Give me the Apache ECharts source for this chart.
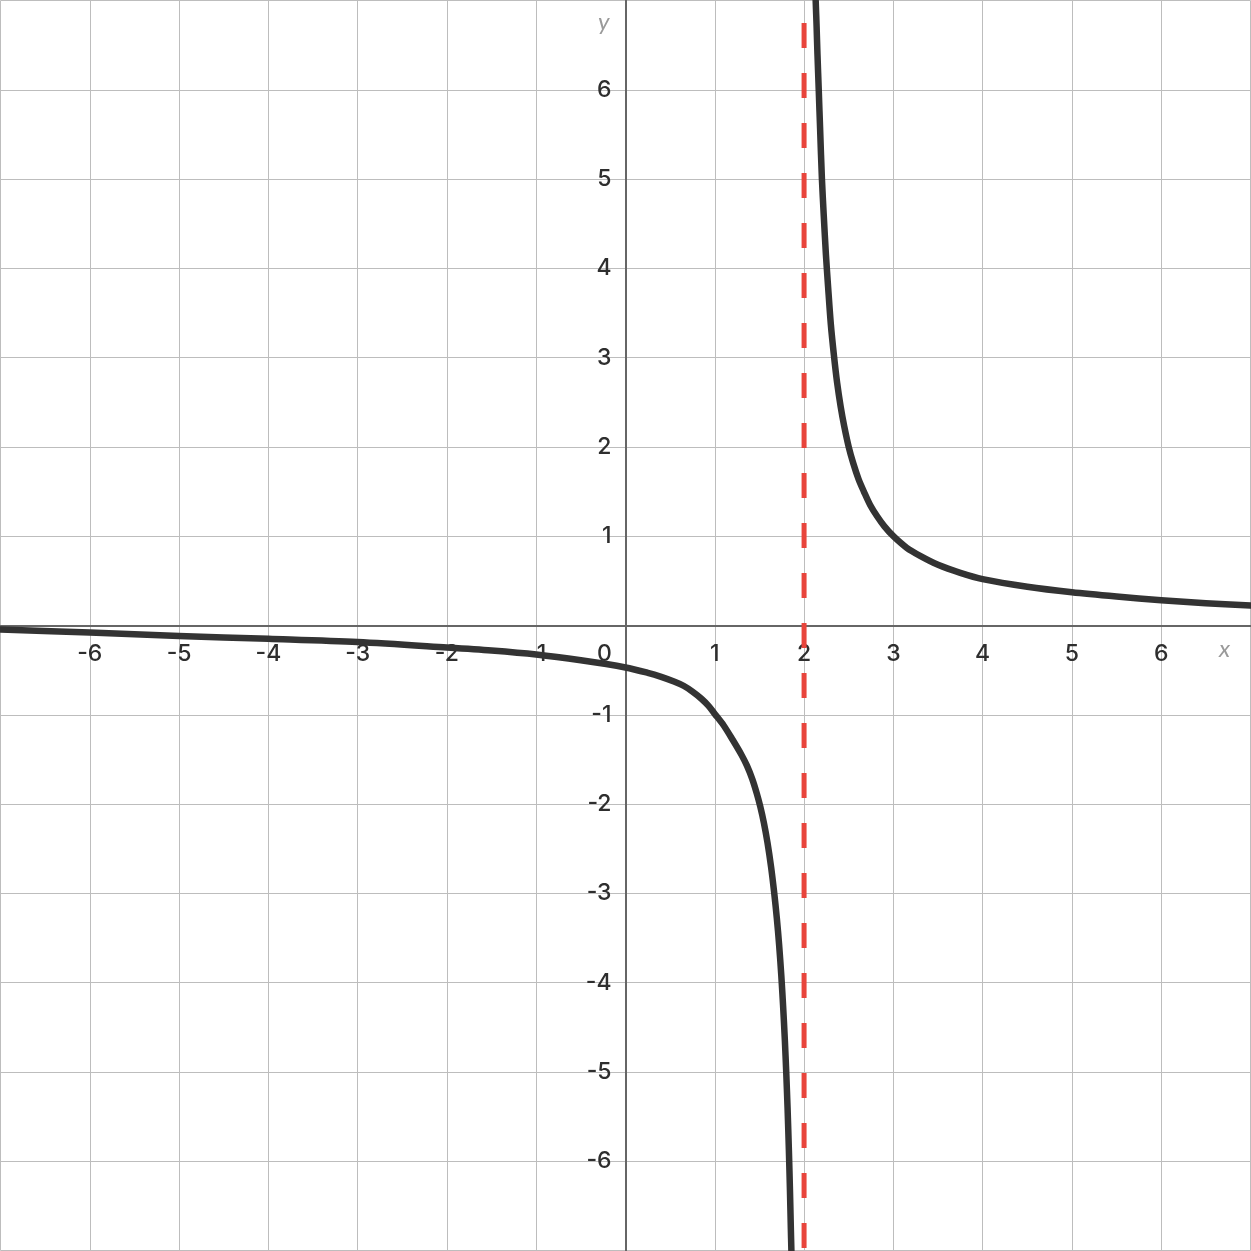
<!DOCTYPE html>
<html>
<head>
<meta charset="utf-8">
<script src="https://cdn.jsdelivr.net/npm/echarts@6/dist/echarts.min.js"></script>
<style>
html,body{margin:0;padding:0;background:#fff;}
#chart{width:1251px;height:1251px;}
</style>
</head>
<body>
<div id="chart"></div>
<script>
// Left branch of the curve
const leftX = [-7, -6, -5, -4, -3, -2, -1.5, -1, -0.5, 0, 0.25, 0.4, 0.55, 0.65, 0.75, 0.85, 0.93, 1, 1.1, 1.2, 1.3, 1.36, 1.42, 1.47, 1.51, 1.55, 1.59, 1.63, 1.665, 1.695, 1.72, 1.745, 1.765, 1.785, 1.8, 1.815, 1.83, 1.842, 1.852, 1.858];
const leftY = [-0.045, -0.078, -0.117, -0.149, -0.185, -0.246, -0.28, -0.325, -0.39, -0.47, -0.53, -0.575, -0.63, -0.675, -0.74, -0.82, -0.9, -0.99, -1.12, -1.28, -1.45, -1.57, -1.72, -1.88, -2.03, -2.21, -2.43, -2.7, -2.99, -3.28, -3.57, -3.92, -4.26, -4.65, -5, -5.4, -5.88, -6.33, -6.76, -7];
// Right branch of the curve
const rightX = [2.13, 2.14, 2.15, 2.165, 2.18, 2.2, 2.22, 2.245, 2.27, 2.3, 2.335, 2.37, 2.41, 2.45, 2.5, 2.55, 2.61, 2.67, 2.74, 2.82, 2.9, 3, 3.15, 3.3, 3.5, 3.75, 4, 4.5, 5, 5.5, 6, 6.5, 7];
const rightY = [7, 6.72, 6.4, 5.98, 5.55, 5, 4.6, 4.15, 3.78, 3.37, 3.02, 2.72, 2.45, 2.23, 2, 1.82, 1.64, 1.5, 1.35, 1.22, 1.11, 1, 0.87, 0.78, 0.68, 0.59, 0.52, 0.435, 0.373, 0.325, 0.283, 0.25, 0.224];
// Vertical asymptote
const asymX = [2, 2];
const asymY = [7, -7];
// Axis ranges / ticks
const axisMin = -7, axisMax = 7, tickStep = 1;
const xName = 'x', yName = 'y';

const zip = (a, b) => a.map((v, i) => [v, b[i]]);
const FONT = 'Inter';
const NAMEFONT = 'Lato';
const W = 1251, H = 1251;
const PAD = 0.5;
const labelStyle = {fontSize: 23, fontWeight: 500, color: '#2e2e2e', fontFamily: FONT};

const chart = echarts.init(document.getElementById('chart'), null, {renderer: 'canvas'});
chart.setOption({
  animation: false,
  backgroundColor: '#ffffff',
  grid: {left: PAD, right: PAD, top: PAD, bottom: PAD, containLabel: false, outerBoundsMode: 'none'},
  xAxis: {
    type: 'value', min: axisMin, max: axisMax, interval: tickStep,
    position: 'bottom', offset: -(H - 2 * PAD) / 2,
    name: xName, nameLocation: 'end', nameGap: -26,
    nameTextStyle: {align: 'center', verticalAlign: 'top', padding: [12, 0, 0, 0], fontStyle: 'italic', color: '#9a9a9a', fontSize: 24, fontFamily: NAMEFONT},
    axisLine: {onZero: false, lineStyle: {color: '#666', width: 2}},
    axisTick: {show: false},
    splitLine: {show: true, lineStyle: {color: '#bdbdbd', width: 1}},
    axisLabel: Object.assign({
      margin: 17,
      showMinLabel: false, showMaxLabel: false,
      formatter: v => v === 0 ? '{z|0}' : String(v),
      rich: {z: Object.assign({padding: [0, 42, 0, 0]}, labelStyle)}
    }, labelStyle)
  },
  yAxis: {
    type: 'value', min: axisMin, max: axisMax, interval: tickStep,
    position: 'left', offset: -(W - 2 * PAD) / 2,
    name: yName, nameLocation: 'end', nameGap: -22,
    nameTextStyle: {align: 'right', verticalAlign: 'middle', padding: [0, 16, 0, 0], fontStyle: 'italic', color: '#9a9a9a', fontSize: 24, fontFamily: NAMEFONT},
    axisLine: {onZero: false, lineStyle: {color: '#666', width: 2}},
    axisTick: {show: false},
    splitLine: {show: true, lineStyle: {color: '#bdbdbd', width: 1}},
    axisLabel: Object.assign({
      margin: 14,
      showMinLabel: false, showMaxLabel: false,
      formatter: v => v === 0 ? '' : String(v)
    }, labelStyle)
  },
  series: [
    {type: 'line', data: zip(leftX, leftY), showSymbol: false, symbol: 'none', smooth: 0.3, clip: true,
     lineStyle: {color: '#333333', width: 6.5, cap: 'round', join: 'round'}, z: 3},
    {type: 'line', data: zip(rightX, rightY), showSymbol: false, symbol: 'none', smooth: 0.3, clip: true,
     lineStyle: {color: '#333333', width: 6.5, cap: 'round', join: 'round'}, z: 3},
    {type: 'line', data: zip(asymX, asymY), showSymbol: false, symbol: 'none', clip: true,
     lineStyle: {color: '#e8453c', width: 5, type: [25, 25], dashOffset: 27.5, cap: 'butt'}, z: 4}
  ]
});
</script>
</body>
</html>
